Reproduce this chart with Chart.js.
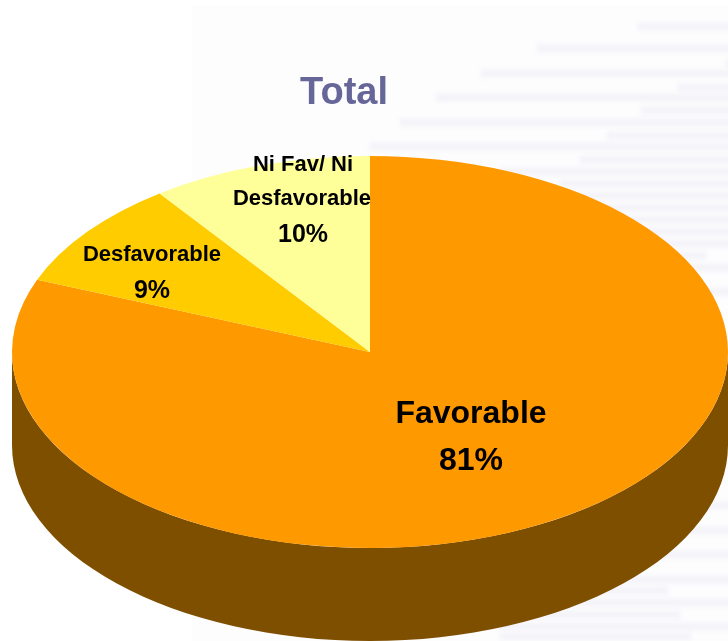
<!DOCTYPE html>
<html>
<head>
<meta charset="utf-8">
<script src="https://cdn.jsdelivr.net/npm/chart.js@4/dist/chart.umd.min.js"></script>
<style>
  html, body { margin: 0; padding: 0; background: #fff; overflow: hidden; }
  #wrap { position: relative; width: 728px; height: 641px; }
</style>
</head>
<body>
<div id="wrap"><canvas id="pie" width="728" height="641"></canvas></div>
<script>
const categories = ["Favorable", "Desfavorable", "Ni Fav/ Ni Desfavorable"];
const seriesValues = [81, 9, 10];
const sliceColors = ["#ff9900", "#ffcc00", "#ffff99"];

// pie is squashed into an ellipse, these are the look of the 3d tilt
const RX = 358, RY = 196, DEPTH = 93;
const CX = 370, CY = 352;

// background streaks: [x start, x end, y]
const streaks = [
  [638, 738, 26], [537, 738, 48], [726, 738, 63], [481, 738, 73], [678, 738, 87], [436, 738, 97],
  [641, 738, 110], [400, 738, 122], [607, 738, 135], [370, 738, 146], [580, 738, 159], [500, 738, 171],
  [560, 738, 183], [500, 738, 195], [600, 738, 207], [600, 738, 219], [600, 738, 231], [650, 738, 243],
  [600, 706, 255], [600, 738, 267], [660, 738, 291],
  [650, 738, 505], [640, 738, 530], [620, 738, 554], [600, 738, 579], [560, 668, 590],
  [500, 738, 602], [500, 680, 614], [500, 738, 626], [500, 691, 636]
];

const backdrop = {
  id: "backdrop",
  beforeDraw(chart) {
    const ctx = chart.ctx;
    ctx.save();
    ctx.fillStyle = "#fdfdfe";
    ctx.fillRect(192, 5, 536, 636);
    ctx.filter = "blur(2.5px)";
    ctx.fillStyle = "#f2f1f8";
    streaks.forEach(s => ctx.fillRect(s[0], s[2] - 3, s[1] - s[0], 7));
    ctx.restore();
  }
};

function putText(ctx, text, x, y, size) {
  ctx.font = "bold " + size + "px 'Liberation Sans'";
  ctx.fillText(text, x, y);
}

const tilt = {
  id: "tilt",
  beforeDatasetsDraw(chart) {
    const ctx = chart.ctx;
    const arc = chart.getDatasetMeta(0).data[0];
    // side wall of the pie
    ctx.save();
    ctx.fillStyle = "#7f4f00";
    ctx.beginPath();
    ctx.ellipse(CX, CY + DEPTH, RX, RY, 0, 0, Math.PI);
    ctx.lineTo(CX - RX, CY);
    ctx.ellipse(CX, CY, RX, RY, 0, Math.PI, 0, true);
    ctx.closePath();
    ctx.fill();
    ctx.restore();

    ctx.save();
    ctx.translate(CX, CY);
    ctx.scale(RX / arc.outerRadius, RY / arc.outerRadius);
    ctx.translate(-arc.x, -arc.y);
  },
  afterDatasetsDraw(chart) {
    const ctx = chart.ctx;
    ctx.restore();

    // slice labels
    ctx.save();
    ctx.fillStyle = "#000";
    ctx.textAlign = "center";
    ctx.textBaseline = "middle";
    putText(ctx, "Favorable", 471, 414, 32);
    putText(ctx, seriesValues[0] + "%", 471, 461, 32);
    putText(ctx, "Desfavorable", 152, 255, 22);
    putText(ctx, seriesValues[1] + "%", 152, 291, 25);
    putText(ctx, "Ni Fav/ Ni", 303, 165, 22);
    putText(ctx, "Desfavorable", 302, 199, 22);
    putText(ctx, seriesValues[2] + "%", 303, 235, 25);
    ctx.restore();
  }
};

new Chart(document.getElementById("pie"), {
  type: "pie",
  data: {
    labels: categories,
    datasets: [{
      data: seriesValues,
      backgroundColor: sliceColors,
      borderWidth: 0,
      clip: false,
    }],
  },
  options: {
    responsive: false,
    animation: false,
    radius: 300,
    layout: { padding: { right: 40, bottom: 50 } },
    plugins: {
      legend: { display: false },
      tooltip: { enabled: false },
      title: {
        display: true,
        text: "Total",
        color: "#666699",
        font: { family: "'Liberation Sans'", size: 38, weight: "bold" },
        padding: { top: 71, bottom: 0 },
      },
    },
  },
  plugins: [backdrop, tilt],
});
</script>
</body>
</html>
